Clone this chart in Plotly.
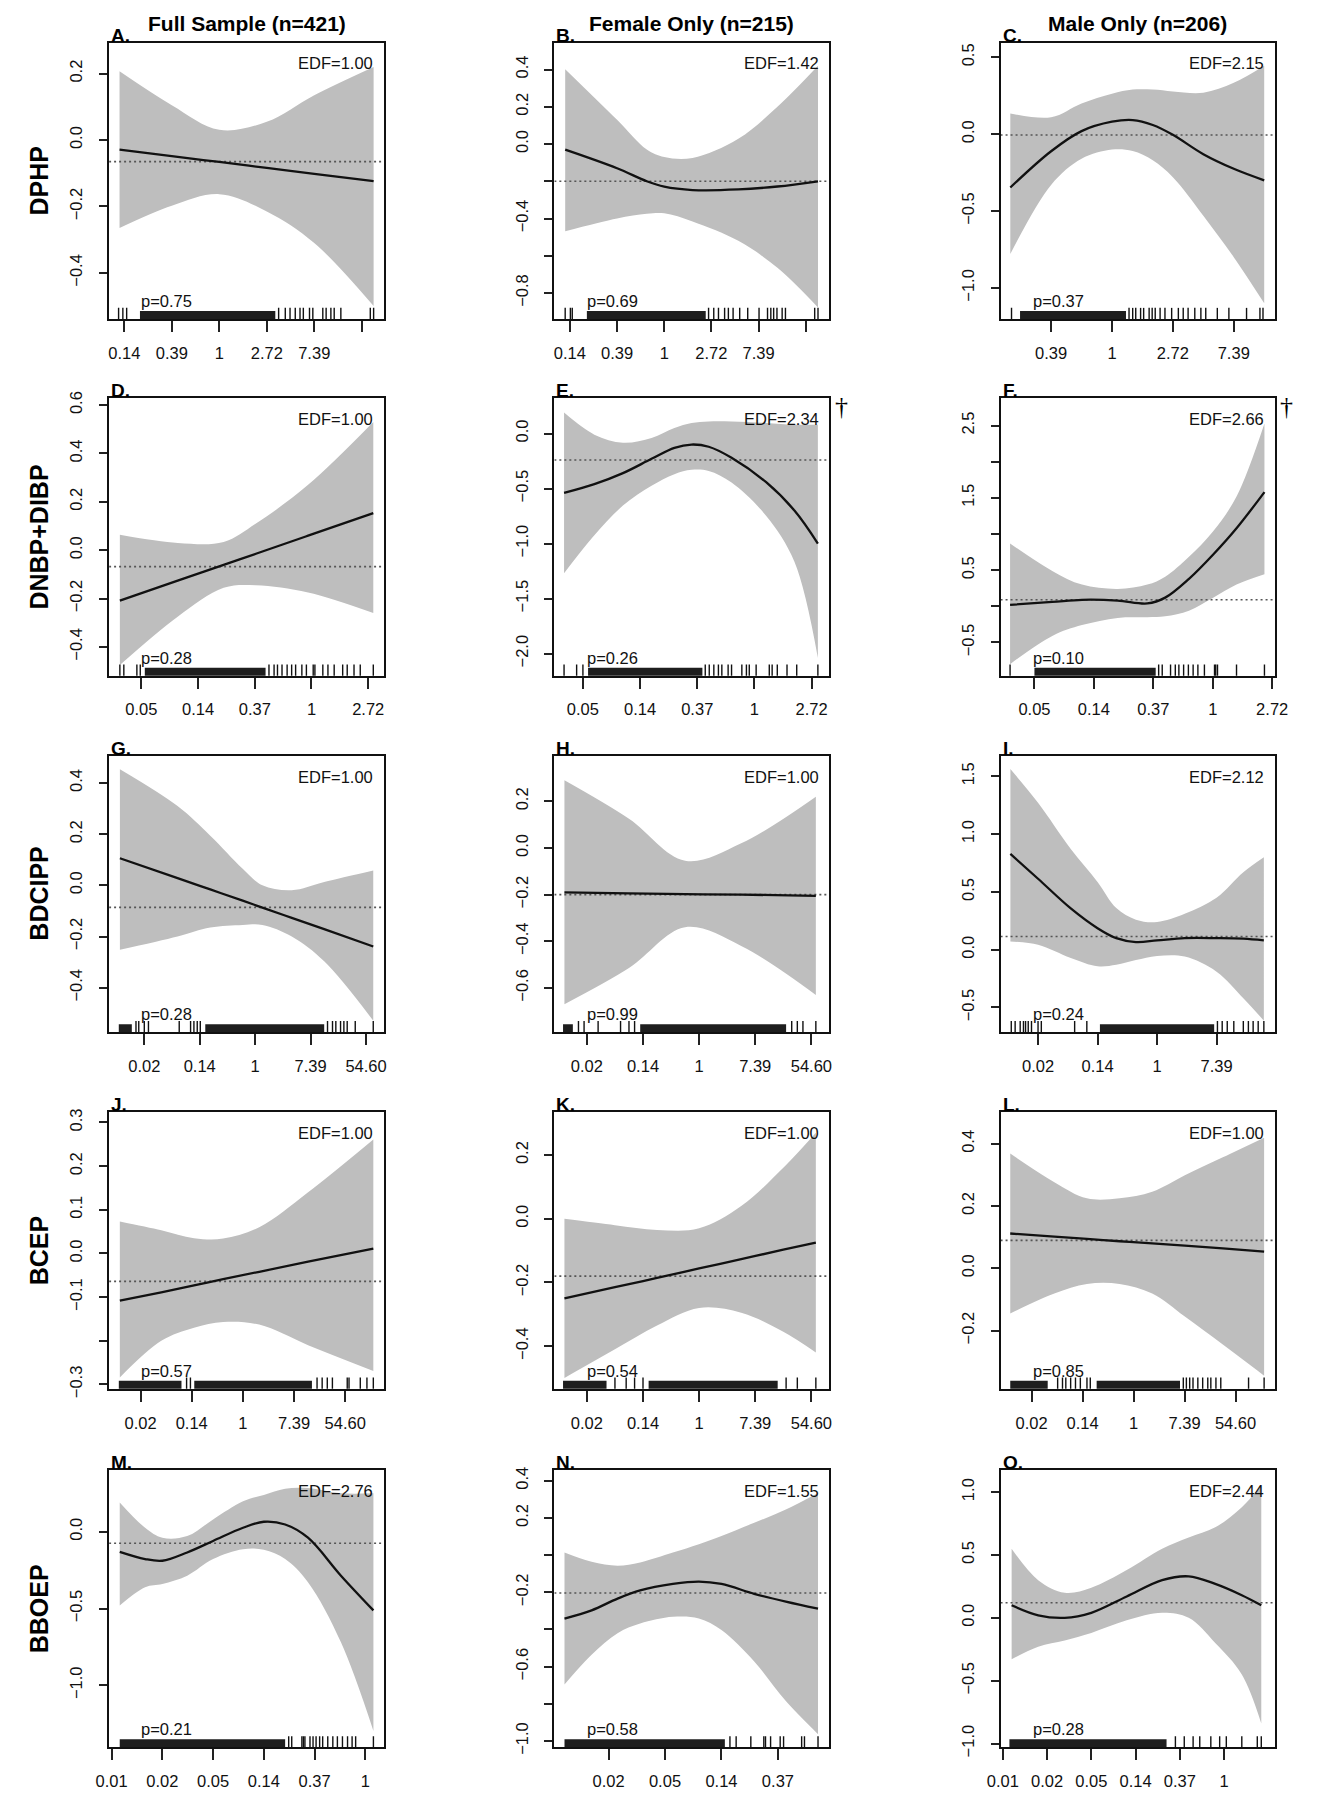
import plotly.graph_objects as go

FONT = "Liberation Sans, Arial, Helvetica, sans-serif"
PAGE_W, PAGE_H = 1322, 1800
OFF = 8                      # default body margin of the page
W, H = PAGE_W - 2 * OFF, PAGE_H - 2 * OFF

col_titles = ["Full Sample (n=421)", "Female Only (n=215)", "Male Only (n=206)"]
row_labels = ["DPHP", "DNBP+DIBP", "BDCIPP", "BCEP", "BBOEP"]
letters = ["A.", "B.", "C.", "D.", "E.", "F.", "G.", "H.", "I.", "J.", "K.", "L.", "M.", "N.", "O."]
edf_vals = ["1.00", "1.42", "2.15", "1.00", "2.34", "2.66", "1.00", "1.00", "2.12",
            "1.00", "1.00", "1.00", "2.76", "1.55", "2.44"]
p_vals = ["0.75", "0.69", "0.37", "0.28", "0.26", "0.10", "0.28", "0.99", "0.24",
          "0.57", "0.54", "0.85", "0.21", "0.58", "0.28"]
dagger_panels = ["E.", "F."]

# x tick positions are ln(concentration); labels are exp() values
xt_r1 = [-2, -1, 0, 1, 2, 3]
xtl_r1 = ["0.14", "0.39", "1", "2.72", "7.39", ""]
xt_r2 = [-3, -2, -1, 0, 1]
xtl_r2 = ["0.05", "0.14", "0.37", "1", "2.72"]
xt_r34 = [-4, -2, 0, 2, 4]
xtl_r34 = ["0.02", "0.14", "1", "7.39", "54.60"]
xt_r5 = [-5, -4, -3, -2, -1, 0]
xtl_r5 = ["0.01", "0.02", "0.05", "0.14", "0.37", "1"]

# ---------------- Panel A ----------------
xr_A = [-2.32, 3.47]; yr_A = [-0.539, 0.293]
yt_A = [0.2, 0.0, -0.2, -0.4]; ytl_A = ["0.2", "0.0", "−0.2", "−0.4"]
xs_A = [-2.10, -1.0, 0.0, 1.0, 2.0, 3.25]
fit_A = [-0.029, -0.0485, -0.066, -0.084, -0.102, -0.124]
hi_A = [0.207, 0.105, 0.031, 0.055, 0.135, 0.22]
lo_A = [-0.265, -0.198, -0.163, -0.215, -0.31, -0.50]
mean_A = -0.065
dense_A = [[-1.67, 1.18]]
rug_A = [-2.12, -2.03, -1.95, 1.25, 1.39, 1.49, 1.6, 1.7, 1.77, 1.9, 1.97, 2.18, 2.25,
         2.35, 2.42, 2.56, 3.18, 3.25]

# ---------------- Panel B ----------------
xr_B = [-2.33, 3.50]; yr_B = [-0.94, 0.544]
yt_B = [0.4, 0.2, 0.0, -0.2, -0.4, -0.6, -0.8]
ytl_B = ["0.4", "0.2", "0.0", "", "−0.4", "", "−0.8"]
xs_B = [-2.10, -1.0, -0.37, 0.0, 0.6, 1.57, 2.4, 3.26]
fit_B = [-0.030, -0.13, -0.20, -0.229, -0.247, -0.244, -0.228, -0.20]
hi_B = [0.402, 0.13, -0.03, -0.07, -0.075, 0.028, 0.20, 0.42]
lo_B = [-0.469, -0.40, -0.375, -0.372, -0.416, -0.52, -0.665, -0.878]
mean_B = -0.2
dense_B = [[-1.64, 0.88]]
rug_B = [-2.10, -1.99, -1.95, 0.94, 1.05, 1.15, 1.28, 1.36, 1.46, 1.6, 1.77, 2.01, 2.19,
         2.26, 2.32, 2.39, 2.5, 2.57, 3.19, 3.26]

# ---------------- Panel C ----------------
xr_C = [-1.83, 2.67]; yr_C = [-1.203, 0.595]
yt_C = [0.5, 0.0, -0.5, -1.0]; ytl_C = ["0.5", "0.0", "−0.5", "−1.0"]
xs_C = [-1.67, -1.0, -0.5, 0.0, 0.34, 0.67, 1.0, 1.5, 2.0, 2.5]
fit_C = [-0.347, -0.111, 0.02, 0.081, 0.092, 0.06, -0.004, -0.13, -0.225, -0.30]
hi_C = [0.135, 0.11, 0.20, 0.263, 0.29, 0.29, 0.278, 0.27, 0.334, 0.445]
lo_C = [-0.78, -0.33, -0.16, -0.10, -0.11, -0.17, -0.28, -0.53, -0.80, -1.10]
mean_C = -0.005
dense_C = [[-1.51, 0.23]]
rug_C = [-1.65, 0.28, 0.34, 0.39, 0.47, 0.52, 0.61, 0.66, 0.71, 0.79, 0.87, 0.98, 1.09,
         1.17, 1.25, 1.36, 1.46, 1.54, 1.73, 1.92, 2.21, 2.43, 2.48]

# ---------------- Panel D ----------------
xr_D = [-3.57, 1.28]; yr_D = [-0.519, 0.628]
yt_D = [0.6, 0.4, 0.2, 0.0, -0.2, -0.4]; ytl_D = ["0.6", "0.4", "0.2", "0.0", "−0.2", "−0.4"]
xs_D = [-3.38, -2.36, -1.55, -0.98, -0.06, 1.09]
fit_D = [-0.209, -0.126, -0.061, -0.015, 0.060, 0.153]
hi_D = [0.064, 0.03, 0.034, 0.11, 0.27, 0.53]
lo_D = [-0.475, -0.275, -0.156, -0.145, -0.175, -0.26]
mean_D = -0.068
dense_D = [[-2.94, -0.81]]
rug_D = [-3.38, -3.31, -3.08, -3.02, -0.75, -0.66, -0.6, -0.52, -0.43, -0.35, -0.28, -0.17,
         -0.09, 0.03, 0.06, 0.2, 0.29, 0.4, 0.55, 0.63, 0.75, 0.86, 1.09]

# ---------------- Panel E ----------------
xr_E = [-3.50, 1.31]; yr_E = [-2.2, 0.32]
yt_E = [0.0, -0.5, -1.0, -1.5, -2.0]; ytl_E = ["0.0", "−0.5", "−1.0", "−1.5", "−2.0"]
xs_E = [-3.33, -2.8, -2.3, -1.8, -1.4, -1.1, -0.8, -0.4, 0.2, 0.7, 1.11]
fit_E = [-0.54, -0.46, -0.36, -0.23, -0.13, -0.10, -0.12, -0.22, -0.44, -0.70, -1.0]
hi_E = [0.19, -0.01, -0.084, -0.04, 0.05, 0.096, 0.11, 0.11, 0.096, 0.08, 0.08]
lo_E = [-1.27, -0.925, -0.655, -0.475, -0.37, -0.33, -0.34, -0.445, -0.745, -1.165, -2.04]
mean_E = -0.24
dense_E = [[-2.91, -0.91]]
rug_E = [-3.33, -3.11, -3.0, -0.86, -0.79, -0.71, -0.63, -0.57, -0.46, -0.4, -0.22, -0.14,
         -0.09, 0.03, 0.26, 0.31, 0.4, 0.57, 0.74, 1.11]

# ---------------- Panel F ----------------
xr_F = [-3.57, 1.04]; yr_F = [-0.959, 2.877]
yt_F = [2.5, 2.0, 1.5, 1.0, 0.5, 0.0, -0.5]; ytl_F = ["2.5", "", "1.5", "", "0.5", "", "−0.5"]
xs_F = [-3.41, -2.7, -2.2, -1.6, -1.1, -0.8, -0.4, 0.0, 0.4, 0.87]
fit_F = [0.02, 0.06, 0.09, 0.08, 0.04, 0.12, 0.38, 0.71, 1.08, 1.58]
hi_F = [0.87, 0.49, 0.30, 0.24, 0.30, 0.41, 0.685, 1.03, 1.52, 2.53]
lo_F = [-0.80, -0.41, -0.26, -0.16, -0.15, -0.137, -0.06, 0.114, 0.30, 0.443]
mean_F = 0.091
dense_F = [[-3.0, -0.96]]
rug_F = [-3.41, -0.91, -0.85, -0.71, -0.63, -0.57, -0.49, -0.41, -0.33, -0.25, -0.14, 0.03,
         0.05, 0.08, 0.4, 0.87]

# ---------------- Panel G ----------------
xr_G = [-5.27, 4.65]; yr_G = [-0.574, 0.506]
yt_G = [0.4, 0.2, 0.0, -0.2, -0.4]; ytl_G = ["0.4", "0.2", "0.0", "−0.2", "−0.4"]
xs_G = [-4.88, -2.8, -1.62, -0.45, 0.26, 1.32, 2.49, 4.26]
fit_G = [0.106, 0.028, -0.016, -0.060, -0.087, -0.127, -0.171, -0.239]
hi_G = [0.454, 0.31, 0.194, 0.065, 0.0, -0.019, 0.013, 0.058]
lo_G = [-0.252, -0.20, -0.165, -0.155, -0.155, -0.20, -0.297, -0.529]
mean_G = -0.086
dense_G = [[-4.92, -4.45], [-1.8, 2.49]]
rug_G = [-4.3, -4.2, -4.0, -3.85, -2.74, -2.33, -2.21, -2.09, -1.98, 2.61, 2.79, 2.91, 3.08,
         3.2, 3.32, 3.61, 4.26]

# ---------------- Panel H ----------------
xr_H = [-5.16, 4.64]; yr_H = [-0.79, 0.395]
yt_H = [0.2, 0.0, -0.2, -0.4, -0.6]; ytl_H = ["0.2", "0.0", "−0.2", "−0.4", "−0.6"]
xs_H = [-4.8, -2.5, -0.5, 1.5, 4.16]
fit_H = [-0.19, -0.195, -0.198, -0.20, -0.205]
hi_H = [0.29, 0.125, -0.055, 0.02, 0.22]
lo_H = [-0.67, -0.515, -0.34, -0.42, -0.63]
mean_H = -0.2
dense_H = [[-4.85, -4.5], [-2.1, 3.1]]
rug_H = [-4.3, -4.1, -3.6, -2.8, -2.5, -2.3, 3.3, 3.5, 3.7, 4.16]

# ---------------- Panel I ----------------
xr_I = [-5.26, 3.95]; yr_I = [-0.714, 1.677]
yt_I = [1.5, 1.0, 0.5, 0.0, -0.5]; ytl_I = ["1.5", "1.0", "0.5", "0.0", "−0.5"]
xs_I = [-4.93, -4.0, -2.9, -2.0, -1.37, -0.71, 0.0, 0.93, 2.0, 2.9, 3.59]
fit_I = [0.829, 0.614, 0.357, 0.186, 0.10, 0.066, 0.08, 0.10, 0.10, 0.095, 0.08]
hi_I = [1.563, 1.271, 0.871, 0.586, 0.36, 0.26, 0.24, 0.31, 0.45, 0.67, 0.80]
lo_I = [0.071, 0.043, -0.071, -0.143, -0.13, -0.09, -0.055, -0.06, -0.19, -0.42, -0.614]
mean_I = 0.114
dense_I = [[-1.92, 1.92]]
rug_I = [-4.9, -4.77, -4.6, -4.49, -4.42, -4.33, -4.22, -4.0, -3.89, -2.77, -2.36, 2.03,
         2.19, 2.36, 2.58, 2.9, 3.07, 3.23, 3.4, 3.59]

# ---------------- Panel J ----------------
xr_J = [-5.23, 5.52]; yr_J = [-0.310, 0.323]
yt_J = [0.3, 0.2, 0.1, 0.0, -0.1, -0.2, -0.3]
ytl_J = ["0.3", "0.2", "0.1", "0.0", "−0.1", "", "−0.3"]
xs_J = [-4.81, -3.19, -1.91, -0.77, 0.64, 2.55, 5.10]
fit_J = [-0.108, -0.089, -0.073, -0.059, -0.042, -0.019, 0.011]
hi_J = [0.073, 0.053, 0.035, 0.034, 0.06, 0.14, 0.261]
lo_J = [-0.284, -0.20, -0.17, -0.157, -0.163, -0.21, -0.269]
mean_J = -0.064
dense_J = [[-4.85, -2.4], [-1.9, 2.7]]
rug_J = [-2.2, -2.05, 2.9, 3.1, 3.3, 3.5, 4.08, 4.15, 4.59, 4.85, 5.10]

# ---------------- Panel K ----------------
xr_K = [-5.16, 4.64]; yr_K = [-0.534, 0.334]
yt_K = [0.2, 0.0, -0.2, -0.4]; ytl_K = ["0.2", "0.0", "−0.2", "−0.4"]
xs_K = [-4.8, -3.0, -1.5, 0.0, 1.5, 3.0, 4.16]
fit_K = [-0.25, -0.215, -0.186, -0.156, -0.127, -0.097, -0.075]
hi_K = [0.0, -0.02, -0.035, -0.03, 0.04, 0.16, 0.27]
lo_K = [-0.50, -0.41, -0.335, -0.28, -0.295, -0.355, -0.42]
mean_K = -0.18
dense_K = [[-4.85, -3.3], [-1.8, 2.8]]
rug_K = [-3.0, -2.6, -2.3, -2.0, 3.1, 3.5, 4.16]

# ---------------- Panel L ----------------
xr_L = [-5.22, 5.53]; yr_L = [-0.387, 0.501]
yt_L = [0.4, 0.2, 0.0, -0.2]; ytl_L = ["0.4", "0.2", "0.0", "−0.2"]
xs_L = [-4.84, -3.11, -1.83, -0.55, 0.73, 2.01, 3.5, 5.12]
fit_L = [0.112, 0.102, 0.095, 0.087, 0.080, 0.073, 0.064, 0.054]
hi_L = [0.369, 0.277, 0.225, 0.225, 0.246, 0.299, 0.357, 0.42]
lo_L = [-0.145, -0.081, -0.05, -0.05, -0.081, -0.155, -0.245, -0.345]
mean_L = 0.09
dense_L = [[-4.84, -3.37], [-1.45, 1.82]]
rug_L = [-2.98, -2.79, -2.66, -2.47, -2.28, -2.09, -1.83, -1.7, 1.95, 2.07, 2.2, 2.33, 2.52,
         2.71, 2.91, 3.03, 3.23, 3.42, 4.51, 5.12]

# ---------------- Panel M ----------------
xr_M = [-5.05, 0.37]; yr_M = [-1.404, 0.402]
yt_M = [0.0, -0.5, -1.0]; ytl_M = ["0.0", "−0.5", "−1.0"]
xs_M = [-4.84, -4.34, -4.0, -3.51, -3.0, -2.41, -2.0, -1.58, -1.13, -0.48, 0.16]
fit_M = [-0.131, -0.178, -0.189, -0.135, -0.06, 0.026, 0.065, 0.047, -0.039, -0.286, -0.512]
hi_M = [0.191, 0.026, -0.039, -0.028, 0.08, 0.198, 0.24, 0.28, 0.284, 0.25, 0.25]
lo_M = [-0.48, -0.361, -0.34, -0.286, -0.178, -0.114, -0.118, -0.178, -0.329, -0.72, -1.297]
mean_M = -0.075
dense_M = [[-4.84, -1.58]]
rug_M = [-1.51, -1.45, -1.25, -1.22, -1.19, -1.09, -1.03, -0.97, -0.9, -0.84, -0.74, -0.64,
         -0.55, -0.45, -0.35, -0.26, -0.19, 0.16]

# ---------------- Panel N ----------------
xr_N = [-4.96, -0.09]; yr_N = [-1.034, 0.458]
yt_N = [0.4, 0.2, 0.0, -0.2, -0.4, -0.6, -0.8, -1.0]
ytl_N = ["0.4", "0.2", "", "−0.2", "", "−0.6", "", "−1.0"]
xs_N = [-4.78, -4.30, -3.84, -3.44, -2.86, -2.40, -2.0, -1.42, -0.86, -0.29]
fit_N = [-0.341, -0.297, -0.234, -0.19, -0.155, -0.142, -0.155, -0.208, -0.25, -0.288]
hi_N = [0.014, -0.036, -0.057, -0.039, 0.014, 0.059, 0.103, 0.174, 0.245, 0.334]
lo_N = [-0.696, -0.536, -0.42, -0.368, -0.332, -0.341, -0.403, -0.572, -0.785, -0.963]
mean_N = -0.204
dense_N = [[-4.78, -1.94]]
rug_N = [-1.85, -1.74, -1.48, -1.25, -1.22, -1.13, -0.96, -0.9, -0.58, -0.53, -0.29]

# ---------------- Panel O ----------------
xr_O = [-5.05, 1.14]; yr_O = [-1.03, 1.176]
yt_O = [1.0, 0.5, 0.0, -0.5, -1.0]; ytl_O = ["1.0", "0.5", "0.0", "−0.5", "−1.0"]
xs_O = [-4.8, -4.2, -3.6, -3.0, -2.2, -1.4, -0.8, -0.2, 0.4, 0.84]
fit_O = [0.10, 0.02, 0.00, 0.04, 0.17, 0.30, 0.33, 0.27, 0.18, 0.10]
hi_O = [0.55, 0.30, 0.20, 0.24, 0.38, 0.55, 0.64, 0.72, 0.88, 1.05]
lo_O = [-0.33, -0.23, -0.18, -0.12, -0.02, 0.04, 0.0, -0.2, -0.45, -0.84]
mean_O = 0.12
dense_O = [[-4.85, -1.3]]
rug_O = [-1.1, -0.9, -0.7, -0.55, -0.3, -0.1, 0.05, 0.4, 0.75, 0.84]

row_xticks = [(xt_r1, xtl_r1), (xt_r2, xtl_r2), (xt_r34, xtl_r34), (xt_r34, xtl_r34), (xt_r5, xtl_r5)]

panels = []
for key in "ABCDEFGHIJKLMNO":
    g = globals()
    panels.append(dict(
        xr=g["xr_" + key], yr=g["yr_" + key], yt=g["yt_" + key], ytl=g["ytl_" + key],
        xs=g["xs_" + key], fit=g["fit_" + key], hi=g["hi_" + key], lo=g["lo_" + key],
        mean=g["mean_" + key], dense=g["dense_" + key], rug=g["rug_" + key]))

# layout geometry (page pixels)
col_px = [(97, 378), (552, 833), (1008, 1288)]
row_px = [(36, 315), (395, 675), (756, 1035), (1116, 1395), (1477, 1757)]


def px_x(p):
    return (p - OFF) / W


def px_y(p):
    return 1 - (p - OFF) / H


fig = go.Figure()
annotations = []
tick_font = dict(family=FONT, size=16.5, color="#111")
small_font = dict(family=FONT, size=16.5, color="#111")

for i, P in enumerate(panels):
    r, c = divmod(i, 3)
    n = i + 1
    sfx = "" if n == 1 else str(n)
    xa, ya = "x" + sfx, "y" + sfx
    x0, x1 = col_px[c]
    y0, y1 = row_px[r]
    xt, xtl = row_xticks[r]

    fig.layout["xaxis" + sfx] = dict(
        domain=[px_x(x0), px_x(x1)], anchor=ya, range=P["xr"], tickvals=xt, ticktext=xtl,
        ticks="outside", ticklen=11, tickwidth=1.5, tickcolor="#222",
        showline=True, linewidth=2, linecolor="#111", mirror=True,
        showgrid=False, zeroline=False, tickfont=tick_font, ticklabelstandoff=7,
        fixedrange=True)
    fig.layout["yaxis" + sfx] = dict(
        domain=[px_y(y1), px_y(y0)], anchor=xa, range=P["yr"], tickvals=P["yt"],
        ticktext=P["ytl"], tickangle=-90,
        ticks="outside", ticklen=8, tickwidth=1.5, tickcolor="#222",
        showline=True, linewidth=2, linecolor="#111", mirror=True,
        showgrid=False, zeroline=False, tickfont=tick_font, ticklabelstandoff=10,
        fixedrange=True)

    common = dict(xaxis=xa, yaxis=ya, showlegend=False, hoverinfo="skip")
    fig.add_trace(go.Scatter(x=P["xs"], y=P["hi"], mode="lines",
                             line=dict(width=0, shape="spline", smoothing=1.0), **common))
    fig.add_trace(go.Scatter(x=P["xs"], y=P["lo"], mode="lines", fill="tonexty",
                             fillcolor="#bebebe",
                             line=dict(width=0, shape="spline", smoothing=1.0), **common))
    # dotted reference line (mean)
    fig.add_trace(go.Scatter(x=P["xr"], y=[P["mean"], P["mean"]], mode="lines",
                             line=dict(color="#555", width=1.6, dash="2px,3px"), **common))
    # fitted smooth
    fig.add_trace(go.Scatter(x=P["xs"], y=P["fit"], mode="lines",
                             line=dict(color="#111", width=2.3, shape="spline", smoothing=1.0),
                             **common))
    # rug: dense blocks
    ybot = P["yr"][0]
    for a, b in P["dense"]:
        fig.add_trace(go.Scatter(x=[a, b], y=[ybot, ybot], mode="lines",
                                 line=dict(color="#1e1e1e", width=16), **common))
    # rug: individual ticks
    fig.add_trace(go.Scatter(x=P["rug"], y=[ybot] * len(P["rug"]), mode="markers",
                             marker=dict(symbol="line-ns", size=16,
                                         line=dict(color="#111", width=1.4)),
                             cliponaxis=True, **common))

    dom_x, dom_y = xa + " domain", ya + " domain"
    annotations.append(dict(text="EDF=" + edf_vals[i], xref=dom_x, yref=dom_y, x=0.968, y=0.925,
                            xanchor="right", yanchor="middle", showarrow=False, font=small_font))
    annotations.append(dict(text="p=" + p_vals[i], xref=dom_x, yref=dom_y, x=0.11, y=0.0645,
                            xanchor="left", yanchor="middle", showarrow=False, font=small_font))
    annotations.append(dict(text="<b>" + letters[i] + "</b>", xref=dom_x, yref=dom_y, x=0, y=1,
                            xanchor="left", yanchor="bottom", yshift=-5, showarrow=False,
                            font=dict(family=FONT, size=19, color="#000")))
    if letters[i] in dagger_panels:
        annotations.append(dict(text="†", xref="paper", yref="paper",
                                x=px_x(x1 + 12), y=px_y(y0 + 8),
                                xanchor="center", yanchor="middle", showarrow=False,
                                font=dict(family="Liberation Serif, DejaVu Serif, serif",
                                          size=26, color="#000")))

for c, t in enumerate(col_titles):
    x0, x1 = col_px[c]
    annotations.append(dict(text="<b>" + t + "</b>", xref="paper", yref="paper",
                            x=px_x((x0 + x1) / 2), y=px_y(17), xanchor="center",
                            yanchor="middle", showarrow=False,
                            font=dict(family=FONT, size=21, color="#000")))
for r, t in enumerate(row_labels):
    y0, y1 = row_px[r]
    annotations.append(dict(text="<b>" + t + "</b>", xref="paper", yref="paper",
                            x=px_x(25), y=px_y((y0 + y1) / 2), xanchor="center",
                            yanchor="middle", textangle=-90, showarrow=False,
                            font=dict(family=FONT, size=25, color="#000")))

fig.update_layout(width=W, height=H, margin=dict(l=0, r=0, t=0, b=0),
                  plot_bgcolor="white", paper_bgcolor="white",
                  annotations=annotations, showlegend=False)

fig.write_html("out.html", config={"displayModeBar": False})
